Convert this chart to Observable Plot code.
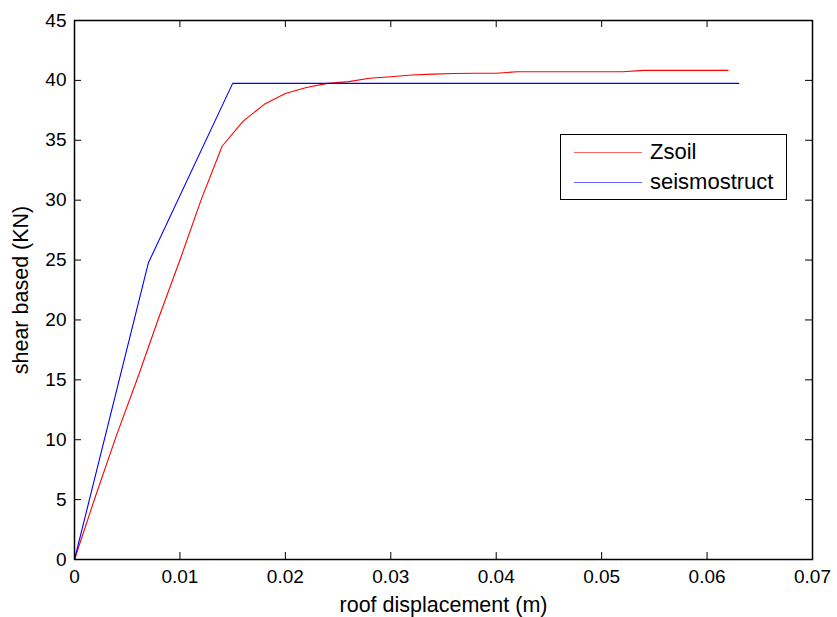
<!DOCTYPE html>
<html><head><meta charset="utf-8">
<script src="https://cdn.jsdelivr.net/npm/d3@7"></script>
<script src="https://cdn.jsdelivr.net/npm/@observablehq/plot@0.6"></script>
<style>
body{margin:0;background:#fff;font-family:"Liberation Sans",Arial,sans-serif;}
#wrap{position:relative;width:837px;height:617px;}
#legend{position:absolute;left:560px;top:134px;width:227px;height:66px;border:1.5px solid #000;background:#fff;box-sizing:border-box;font-size:22px;}
.row{position:absolute;left:0;display:flex;align-items:center;height:24px;}
.sw{width:68px;height:0;border-top:1px solid;margin-left:13px;margin-right:8px;}
g[aria-label="x-axis label"] text, g[aria-label="y-axis label"] text{font-size:21.5px;}
</style></head>
<body><div id="wrap"></div>
<script>
// Zsoil (red)
const zsoilX = [0,0.002,0.004,0.006,0.008,0.010,0.012,0.014,0.016,0.018,0.020,0.022,0.024,0.026,0.028,0.030,0.032,0.034,0.036,0.038,0.040,0.042,0.044,0.046,0.048,0.050,0.052,0.054,0.056,0.058,0.060,0.062];
const zsoilY = [0,5.3,10.4,15.2,20.2,25.0,30.0,34.5,36.6,38.0,38.9,39.4,39.75,39.9,40.18,40.3,40.45,40.52,40.58,40.6,40.6,40.72,40.72,40.72,40.72,40.72,40.72,40.84,40.84,40.84,40.84,40.84];
// seismostruct (blue)
const seisX = [0,0.007,0.015,0.063];
const seisY = [0,24.75,39.75,39.75];
const xTicks = [0,0.01,0.02,0.03,0.04,0.05,0.06,0.07];
const yTicks = [0,5,10,15,20,25,30,35,40,45];
const seriesNames = ["Zsoil","seismostruct"];
const seriesColors = ["#ff0000","#0000ff"];

const red = zsoilX.map((x,i)=>({x, y: zsoilY[i]}));
const blue = seisX.map((x,i)=>({x, y: seisY[i]}));

const W=837,H=617,mL=74,mR=25,mT=20,mB=58;
const pw=W-mL-mR, ph=H-mT-mB, tk=7;

const chart = Plot.plot({
  width: W, height: H,
  marginLeft: mL, marginRight: mR, marginTop: mT, marginBottom: mB,
  style: {fontFamily: '"Liberation Sans", Arial, sans-serif', fontSize: "19px", color: "#000", background: "#fff"},
  x: {domain: [0,0.07]},
  y: {domain: [0,45]},
  marks: [
    Plot.line(red, {x:"x", y:"y", stroke: seriesColors[0], strokeWidth: 1.1}),
    Plot.line(blue, {x:"x", y:"y", stroke: seriesColors[1], strokeWidth: 1.1}),
    Plot.tickX(xTicks, {x: d=>d, insetTop: ph-tk, stroke:"#000"}),
    Plot.tickX(xTicks, {x: d=>d, insetBottom: ph-tk, stroke:"#000"}),
    Plot.tickY(yTicks, {y: d=>d, insetRight: pw-tk, stroke:"#000"}),
    Plot.tickY(yTicks, {y: d=>d, insetLeft: pw-tk, stroke:"#000"}),
    Plot.frame({stroke:"#000", strokeWidth: 1.5}),
    Plot.axisX(xTicks, {tickSize: 0, tickPadding: 10, tickFormat: d=>String(d), label: "roof displacement (m)", labelAnchor: "center", labelOffset: 52, labelArrow: "none"}),
    Plot.axisY(yTicks, {tickSize: 0, tickPadding: 8, tickFormat: d=>String(d), label: "shear based (KN)", labelAnchor: "center", labelOffset: 62, labelArrow: "none"})
  ]
});
const wrap = document.getElementById("wrap");
wrap.appendChild(chart);
const lg = document.createElement("div");
lg.id = "legend";
seriesNames.forEach((n,i)=>{
  const r = document.createElement("div");
  r.className="row"; r.style.top = (i===0? 5 : 35)+"px";
  const s = document.createElement("div"); s.className="sw"; s.style.borderColor = seriesColors[i]; s.style.opacity = 0.6;
  const t = document.createElement("span"); t.textContent = n;
  r.appendChild(s); r.appendChild(t); lg.appendChild(r);
});
wrap.appendChild(lg);
</script></body></html>
